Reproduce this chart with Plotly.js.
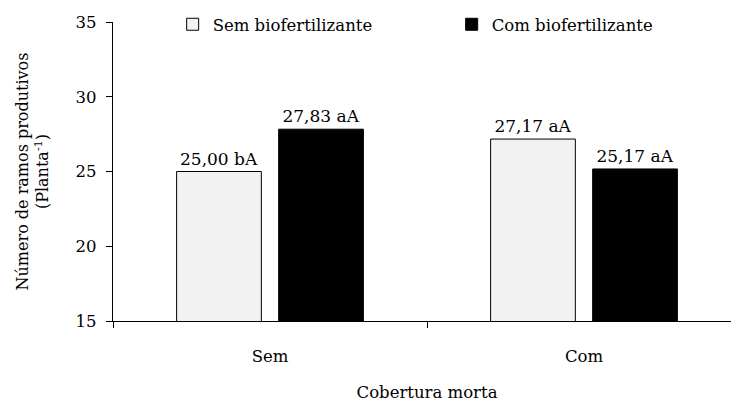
<!DOCTYPE html>
<html>
<head>
<meta charset="utf-8">
<script src="https://cdn.plot.ly/plotly-3.0.1.min.js"></script>
<style>html,body{margin:0;padding:0;overflow:hidden;background:#fff;}</style>
</head>
<body>
<div id="chart"></div>
<script>
const categories = ["Sem", "Com"];
const semBioValues = [25.00, 27.17];
const comBioValues = [27.83, 25.17];
const semBioLabels = ["25,00 bA", "27,17 aA"];
const comBioLabels = ["27,83 aA", "25,17 aA"];
const yTicks = [15, 20, 25, 30, 35];

const fontFam = "DejaVu Serif, Liberation Serif, serif";

const traces = [
  {
    type: "bar", name: "Sem biofertilizante", x: categories, y: semBioValues,
    text: semBioLabels, textposition: "outside", cliponaxis: false,
    textfont: {family: fontFam, size: 17, color: "#000"},
    marker: {color: "#f2f2f2", line: {color: "#000", width: 1}}
  },
  {
    type: "bar", name: "Com biofertilizante", x: categories, y: comBioValues,
    text: comBioLabels, textposition: "outside", cliponaxis: false,
    textfont: {family: fontFam, size: 17, color: "#000"},
    marker: {color: "#000000", line: {color: "#000", width: 1}}
  }
];

const layout = {
  width: 745, height: 403,
  margin: {l: 113, r: 4, t: 22, b: 82},
  paper_bgcolor: "#fff", plot_bgcolor: "#fff",
  font: {family: fontFam, size: 16, color: "#000"},
  barmode: "group", bargap: 0.35, bargroupgap: 0.17,
  showlegend: true,
  legend: {
    orientation: "h", x: 0.095, y: 1.05, xanchor: "left", yanchor: "top",
    xref: "paper", entrywidth: 234, entrywidthmode: "pixels",
    font: {family: fontFam, size: 16.5, color: "#000"}, bgcolor: "rgba(0,0,0,0)",
    traceorder: "normal"
  },
  xaxis: {
    type: "category", showline: true, linecolor: "#000", linewidth: 1.3,
    ticks: "outside", tickson: "boundaries", ticklen: 6, tickcolor: "#000",
    ticklabelstandoff: 20, showgrid: false, zeroline: false,
    tickfont: {family: fontFam, size: 16.5},
    title: {text: "Cobertura morta", font: {family: fontFam, size: 16.5}, standoff: 21}
  },
  yaxis: {
    range: [15, 35], tickvals: yTicks, ticktext: yTicks.map(String),
    showline: true, linecolor: "#000", linewidth: 1.3,
    ticks: "outside", ticklen: 6, tickcolor: "#000", showgrid: false, zeroline: false,
    ticklabelstandoff: 6,
    tickfont: {family: fontFam, size: 16.5},
    title: {text: "Número de ramos produtivos<br>(Planta<sup>-1</sup>)", font: {family: fontFam, size: 16}, standoff: 22}
  }
};

Plotly.newPlot("chart", traces, layout, {displayModeBar: false, staticPlot: true});
</script>
</body>
</html>
